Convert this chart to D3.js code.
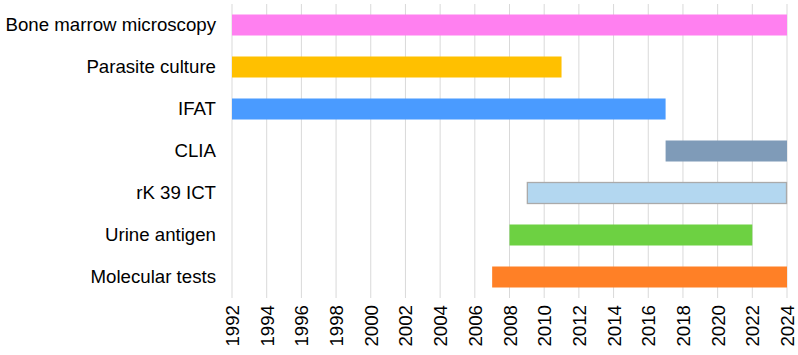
<!DOCTYPE html>
<html><head><meta charset="utf-8">
<script src="https://cdn.jsdelivr.net/npm/d3@7"></script>
<style>body{margin:0;background:#fff;}svg{display:block;}</style>
</head><body><svg id="c" width="798" height="355"></svg>
<script>
const categories = ["Bone marrow microscopy","Parasite culture","IFAT","CLIA","rK 39 ICT","Urine antigen","Molecular tests"];
const startYears = [1992,1992,1992,2017,2009,2008,2007];
const endYears   = [2024,2011,2017,2024,2024,2022,2024];
const colors = ["#FF80F0","#FFC000","#4A9BFF","#7F9BB8","#B3D7F0","#6DD142","#FF8026"];
const strokes = ["none","none","none","none","#AAAAAA","none","none"];
const tickYears = d3.range(1992, 2025, 2);

const svg = d3.select("#c");
const m = {left:232, right:11, top:4, bottom:57};
const W = 798, H = 355;
const x = d3.scaleLinear().domain([1992,2024]).range([m.left, W - m.right]);
const y = d3.scaleBand().domain(categories).range([m.top, H - m.bottom]).paddingInner(0.476).paddingOuter(0.238);
const font = "Liberation Sans, Arial, sans-serif";

// gridlines
svg.append("g").selectAll("line").data(tickYears).join("line")
  .attr("x1", d => x(d)).attr("x2", d => x(d))
  .attr("y1", m.top).attr("y2", H - m.bottom)
  .attr("stroke", "#D9D9D9").attr("stroke-width", 1);

// bars
svg.append("g").selectAll("rect").data(categories).join("rect")
  .attr("x", (d,i) => x(startYears[i]) + (strokes[i] !== "none" ? 0.5 : 0))
  .attr("y", d => y(d) + 0.5)
  .attr("width", (d,i) => x(endYears[i]) - x(startYears[i]) - (strokes[i] !== "none" ? 1 : 0))
  .attr("height", y.bandwidth() - 1)
  .attr("fill", (d,i) => colors[i])
  .attr("stroke", (d,i) => strokes[i])
  .attr("stroke-width", 1.3);

// x axis
const xAxis = svg.append("g").attr("transform", `translate(0,${H - m.bottom})`)
  .call(d3.axisBottom(x).tickValues(tickYears).tickFormat(d3.format("d")).tickSize(0).tickPadding(7));
xAxis.select(".domain").remove();
xAxis.selectAll("text")
  .attr("transform", "rotate(-90)")
  .attr("dy", "0.35em").attr("x", -7).attr("y", 0)
  .style("text-anchor", "end")
  .style("font-family", font).style("font-size", "18.67px").attr("fill", "#000");

// y axis
const yAxis = svg.append("g").attr("transform", `translate(${m.left},0)`)
  .call(d3.axisLeft(y).tickSize(0).tickPadding(16));
yAxis.select(".domain").remove();
yAxis.selectAll("text").style("font-family", font).style("font-size", "18.67px").attr("fill", "#000");
</script></body></html>
